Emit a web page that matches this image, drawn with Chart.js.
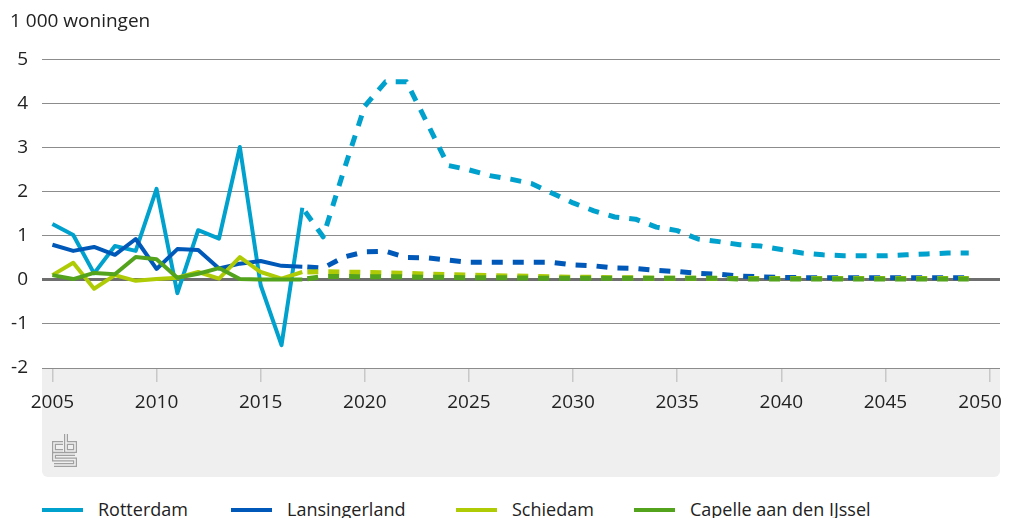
<!DOCTYPE html>
<html lang="nl">
<head>
<meta charset="UTF-8">
<title>Woningvoorraad regio Rotterdam</title>
<script src="https://cdn.jsdelivr.net/npm/chart.js"></script>
<style>
  body { margin: 0; background: #fff; font-family: "Open Sans", sans-serif; }
  #wrap { position: relative; width: 1010px; height: 518px; }
  #legend { position: absolute; top: 498px; left: 0; width: 1010px; height: 22px; font-size: 18px; color: #222; }
  .item { position: absolute; top: 0; white-space: nowrap; line-height: 22px; }
  .swatch { display: inline-block; width: 41px; height: 4px; vertical-align: middle; margin-right: 15px; position: relative; top: -1px; }
</style>
</head>
<body>
<div id="wrap">
  <canvas id="chart" width="1010" height="480"></canvas>
  <div id="legend"></div>
</div>
<script>
// jaren 2005-2049; vanaf 2017 (index 12) is het een prognose (gestippeld)
const years = [2005, 2006, 2007, 2008, 2009, 2010, 2011, 2012, 2013, 2014, 2015, 2016, 2017,
  2018, 2019, 2020, 2021, 2022, 2023, 2024, 2025, 2026, 2027, 2028, 2029, 2030, 2031, 2032, 2033,
  2034, 2035, 2036, 2037, 2038, 2039, 2040, 2041, 2042, 2043, 2044, 2045, 2046, 2047, 2048, 2049];
const forecastFrom = 12;

const rotterdam = [1.27, 1.02, 0.15, 0.77, 0.66, 2.07, -0.3, 1.13, 0.94, 3.02, -0.12, -1.48, 1.64,
  0.98, 2.5, 3.95, 4.5, 4.5, 3.56, 2.6, 2.5, 2.37, 2.29, 2.19, 1.97, 1.75, 1.57, 1.43, 1.38,
  1.2, 1.12, 0.93, 0.87, 0.8, 0.77, 0.69, 0.61, 0.57, 0.55, 0.55, 0.55, 0.57, 0.59, 0.61, 0.61];
const lansingerland = [0.8, 0.66, 0.75, 0.57, 0.93, 0.25, 0.7, 0.68, 0.26, 0.37, 0.43, 0.32, 0.3,
  0.27, 0.52, 0.64, 0.65, 0.51, 0.5, 0.45, 0.4, 0.4, 0.4, 0.4, 0.4, 0.34, 0.32, 0.27, 0.26,
  0.22, 0.19, 0.15, 0.13, 0.09, 0.07, 0.06, 0.05, 0.05, 0.05, 0.05, 0.05, 0.05, 0.05, 0.05, 0.05];
const schiedam = [0.11, 0.39, -0.2, 0.11, -0.02, 0.02, 0.05, 0.18, 0.03, 0.52, 0.18, 0.03, 0.18,
  0.19, 0.18, 0.17, 0.16, 0.15, 0.13, 0.12, 0.11, 0.1, 0.09, 0.08, 0.07, 0.06, 0.06, 0.05, 0.05,
  0.04, 0.04, 0.04, 0.03, 0.03, 0.03, 0.03, 0.03, 0.03, 0.03, 0.03, 0.03, 0.03, 0.03, 0.03, 0.03];
const capelle = [0.11, 0.02, 0.16, 0.13, 0.52, 0.47, 0.05, 0.14, 0.27, 0.02, 0.01, 0.01, 0.01,
  0.08, 0.08, 0.07, 0.07, 0.07, 0.06, 0.06, 0.05, 0.05, 0.05, 0.04, 0.04, 0.04, 0.04, 0.04, 0.04,
  0.04, 0.04, 0.04, 0.04, 0.02, 0.02, 0.02, 0.02, 0.02, 0.02, 0.02, 0.02, 0.02, 0.02, 0.02, 0.02];

const seriesNames = ['Rotterdam', 'Lansingerland', 'Schiedam', 'Capelle aan den IJssel'];
const seriesValues = [rotterdam, lansingerland, schiedam, capelle];
const seriesColors = ['#00a1cd', '#0058b8', '#afcb05', '#53a31d'];

const xTicks = [2005, 2010, 2015, 2020, 2025, 2030, 2035, 2040, 2045, 2050];
const yTicks = [-2, -1, 0, 1, 2, 3, 4, 5];
const unitLabel = '1 000 woningen';

const FONT = '"Open Sans", sans-serif';
const TEXT = '#222';

// grijs vlak onder de grafiek met cbs-logo
const panelPlugin = {
  id: 'panel',
  beforeDraw(chart) {
    const { ctx, chartArea } = chart;
    const x = chartArea.left, y = chartArea.bottom;
    ctx.save();
    ctx.fillStyle = '#efefef';
    ctx.beginPath();
    ctx.roundRect(x, y, chartArea.right - x, 109, [0, 0, 6, 6]);
    ctx.fill();

    // logo (eenvoudig nagetekend)
    const ox = x + 11, oy = y + 66;
    const paths = [
      [[10, 9], [1, 9], [1, 17], [10, 17]],
      [[13, 0], [13, 17], [22, 17], [22, 9], [13, 9]],
      [[22, 20], [1, 20], [1, 25.5], [22, 25.5], [22, 31], [1, 31]]
    ];
    ctx.lineJoin = 'miter';
    [[4, '#a0a0a0'], [1.6, '#efefef']].forEach(([w, c]) => {
      ctx.lineWidth = w;
      ctx.strokeStyle = c;
      paths.forEach(p => {
        ctx.beginPath();
        p.forEach(([px, py], i) => i ? ctx.lineTo(ox + px, oy + py) : ctx.moveTo(ox + px, oy + py));
        ctx.stroke();
      });
    });
    ctx.restore();
  }
};

const datasets = seriesNames.map((name, s) => ({
  label: name,
  data: years.map((yr, i) => ({ x: yr, y: seriesValues[s][i] })),
  borderColor: seriesColors[s],
  backgroundColor: seriesColors[s],
  borderWidth: 4,
  borderJoinStyle: 'round',
  pointRadius: 0,
  tension: 0,
  order: seriesNames.length - s,
  segment: {
    borderDash: c => c.p0DataIndex >= forecastFrom ? [11, 10] : undefined,
    borderDashOffset: c => c.p0DataIndex >= forecastFrom ? 16 : 0,
    borderWidth: c => c.p0DataIndex >= forecastFrom ? 5 : 4
  }
}));

new Chart(document.getElementById('chart'), {
  type: 'line',
  data: { datasets: datasets },
  plugins: [panelPlugin],
  options: {
    responsive: false,
    animation: false,
    devicePixelRatio: 1,
    layout: { padding: { left: 10, right: 10, top: 0, bottom: 3 } },
    plugins: {
      legend: { display: false },
      tooltip: { enabled: false },
      title: {
        display: true,
        text: unitLabel,
        align: 'start',
        color: TEXT,
        font: { family: FONT, size: 19, weight: 'normal' },
        padding: { top: 10, bottom: 27 }
      }
    },
    scales: {
      x: {
        type: 'linear',
        min: 2004.5,
        max: 2050.5,
        afterBuildTicks: scale => { scale.ticks = xTicks.map(v => ({ value: v })); },
        afterFit: scale => { scale.height = 109; scale.paddingRight = 0; },
        border: { display: false },
        grid: { drawOnChartArea: false, drawTicks: true, tickLength: 14, color: '#c8c8c8', lineWidth: 1.5 },
        ticks: {
          color: TEXT,
          font: { family: FONT, size: 19 },
          padding: 9,
          maxRotation: 0,
          autoSkip: false,
          // laatste label schuift naar links, binnen het grijze vlak
          callback: v => v === xTicks[xTicks.length - 1] ? v + '\u2002\u2002' : String(v)
        }
      },
      y: {
        min: -2,
        max: 5,
        afterBuildTicks: scale => { scale.ticks = yTicks.map(v => ({ value: v })); },
        afterFit: scale => { scale.width = 32; },
        border: { display: false },
        grid: {
          drawTicks: false,
          color: c => c.tick.value === 0 ? '#6e6e6e' : '#8c8c8c',
          lineWidth: c => c.tick.value === 0 ? 3 : 1
        },
        ticks: {
          color: TEXT,
          font: { family: FONT, size: 19 },
          padding: 14,
          callback: v => String(v)
        }
      }
    }
  }
});

// legenda
const legendLeft = [42, 231, 456, 634];
const legend = document.getElementById('legend');
seriesNames.forEach((name, s) => {
  const item = document.createElement('div');
  item.className = 'item';
  item.style.left = legendLeft[s] + 'px';
  item.innerHTML = '<span class="swatch" style="background:' + seriesColors[s] + '"></span>' + name;
  legend.appendChild(item);
});
</script>
</body>
</html>
